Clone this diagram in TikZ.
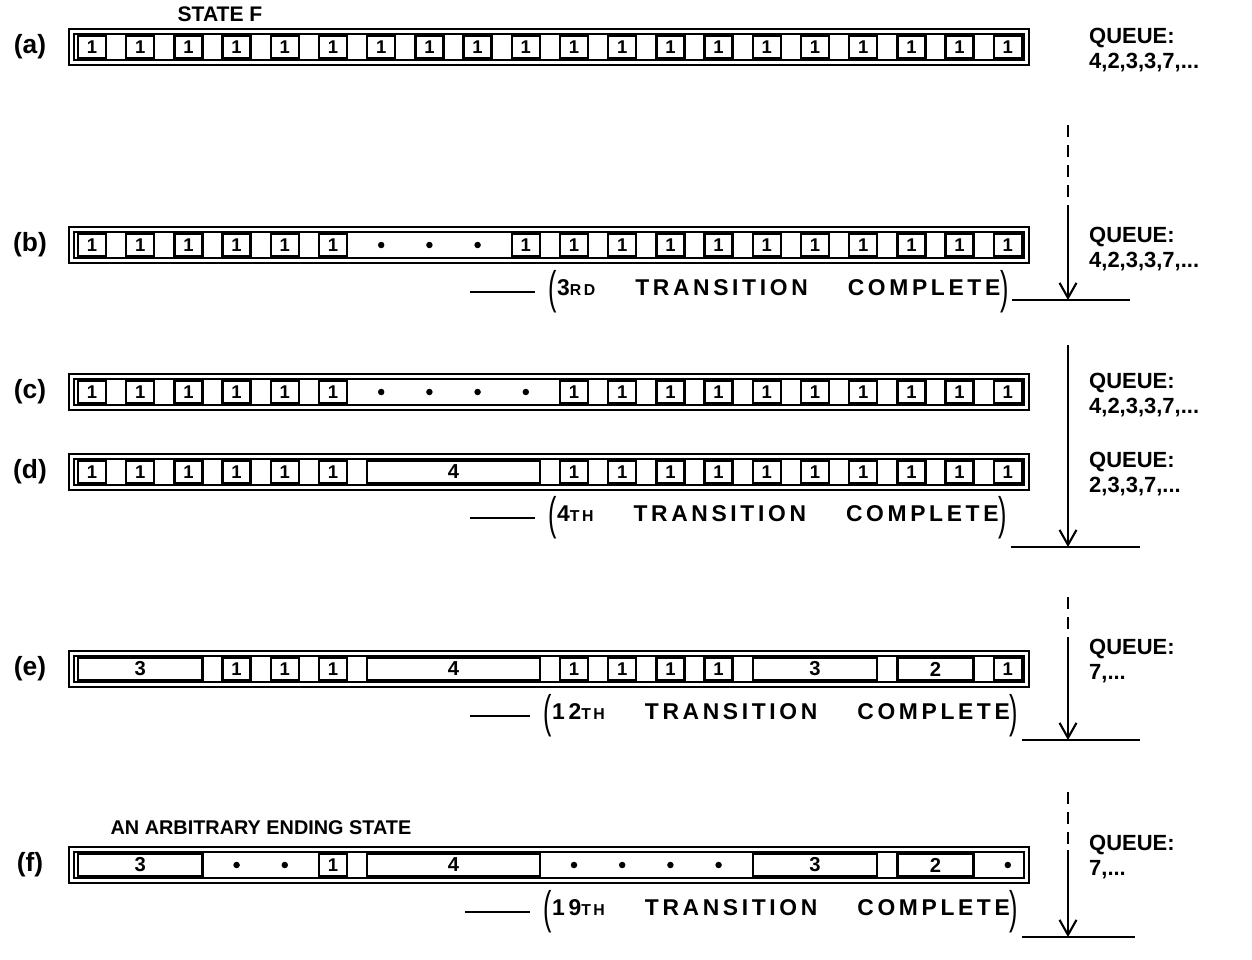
\documentclass[tikz,border=0pt]{standalone}
\usepackage{fontspec}
\usepackage{graphicx}
\setmainfont{Liberation Sans}
\newfontfamily\handwide[LetterSpace=16,WordSpace=4]{Liberation Sans}
\usetikzlibrary{arrows.meta, positioning}

\tikzstyle{rowbox}   = [draw, double, line width=1.3pt, double distance=1.3pt,
                        minimum width=19.1cm, minimum height=0.62cm, inner sep=0pt]
\tikzstyle{cell}     = [draw, line width=1.3pt, minimum width=0.56cm,
                        minimum height=0.46cm, inner sep=0pt, font=\bfseries\fontsize{10.5}{10.5}\selectfont]
\tikzstyle{blob}     = [circle, fill, inner sep=0pt, minimum size=0.13cm]
\tikzstyle{rowlabel} = [font=\bfseries\fontsize{15}{15}\selectfont]
\tikzstyle{queue}    = [anchor=west, align=left, font=\bfseries\fontsize{12.5}{14.2}\selectfont]
\tikzstyle{trans}    = [anchor=west, inner sep=2pt, font=\handwide\bfseries\fontsize{13}{13}\selectfont]
\tikzstyle{link}     = [line width=1.2pt]
\tikzstyle{pending}  = [line width=1.2pt, dash pattern=on 0.24cm off 0.16cm]
\tikzstyle{arrow}    = [-{Straight Barb[length=0.3cm,width=0.34cm]}, line width=1.2pt]
\tikzset{block/.style 2 args={cell, minimum width={(48.2*(#2-#1)+28)*0.02cm},
                              font=\bfseries\fontsize{11.5}{11.5}\selectfont}}

\newcommand{\slotx}[1]{(92+48.2*(#1-1))}
\newcommand{\bigparen}[1]{\raisebox{-0.35em}{\scalebox{1.1}[2]{\mdseries #1}}}
\newcommand{\suff}[1]{{\fontsize{9}{9}\selectfont #1}}

\begin{document}
\begin{tikzpicture}[x=0.02cm, y=-0.02cm, font=\bfseries\fontsize{12}{13.7}\selectfont]
  \useasboundingbox (0,0) rectangle (1252,960);

  %% the six rows
  \foreach \r/\y in {a/47, b/245, c/392, d/472, e/669, f/865} {
    \node[rowbox] (row\r) at (549,\y) {};
    \node[rowlabel] (lab\r) at (30,\y) {(\r)};
  }
  \node (statef) at (220,14) {STATE F};
  \node[font=\bfseries\fontsize{11.3}{12}\selectfont] (ending) at (261,828) {AN ARBITRARY ENDING STATE};

  %% (a)
  \foreach \i in {1,...,20}
    \node[cell] (a\i) at ({\slotx{\i}},47) {1};

  %% (b)
  \foreach \i in {1,...,6,10,11,...,20}
    \node[cell] (b\i) at ({\slotx{\i}},245) {1};
  \foreach \i in {7,8,9}
    \node[blob] (b\i) at ({\slotx{\i}},245) {};

  %% (c)
  \foreach \i in {1,...,6,11,12,...,20}
    \node[cell] (c\i) at ({\slotx{\i}},392) {1};
  \foreach \i in {7,...,10}
    \node[blob] (c\i) at ({\slotx{\i}},392) {};

  %% (d)
  \foreach \i in {1,...,6,11,12,...,20}
    \node[cell] (d\i) at ({\slotx{\i}},472) {1};
  \node[block={7}{10}] (d7) at ({(\slotx{7}+\slotx{10})/2},472) {4};

  %% (e)
  \foreach \i in {4,5,6,11,12,13,14,20}
    \node[cell] (e\i) at ({\slotx{\i}},669) {1};
  \foreach \p/\q/\v in {1/3/3, 7/10/4, 15/17/3, 18/19/2}
    \node[block={\p}{\q}] (e\p) at ({(\slotx{\p}+\slotx{\q})/2},669) {\v};

  %% (f)
  \node[cell] (f6) at ({\slotx{6}},865) {1};
  \foreach \i in {4,5,11,12,13,14,20}
    \node[blob] (f\i) at ({\slotx{\i}},865) {};
  \foreach \p/\q/\v in {1/3/3, 7/10/4, 15/17/3, 18/19/2}
    \node[block={\p}{\q}] (f\p) at ({(\slotx{\p}+\slotx{\q})/2},865) {\v};

  %% queues
  \node[queue] (qa) at (1083,50)  {QUEUE:\\4,2,3,3,7,...};
  \node[queue] (qb) at (1083,249) {QUEUE:\\4,2,3,3,7,...};
  \node[queue] (qc) at (1083,395) {QUEUE:\\4,2,3,3,7,...};
  \node[queue] (qd) at (1083,474) {QUEUE:\\2,3,3,7,...};
  \node[queue] (qe) at (1083,661) {QUEUE:\\7,...};
  \node[queue] (qf) at (1083,857) {QUEUE:\\7,...};

  %% transition marks
  \node[trans] (t3)  at (545,292) {\bigparen{(}3\suff{RD} TRANSITION COMPLETE\bigparen{)}};
  \node[trans] (t4)  at (545,518) {\bigparen{(}4\suff{TH} TRANSITION COMPLETE\bigparen{)}};
  \node[trans] (t12) at (540,716) {\bigparen{(}12\suff{TH} TRANSITION COMPLETE\bigparen{)}};
  \node[trans] (t19) at (540,912) {\bigparen{(}19\suff{TH} TRANSITION COMPLETE\bigparen{)}};

  \coordinate (d3)  at (470,292);
  \coordinate (d4)  at (470,518);
  \coordinate (d12) at (470,716);
  \coordinate (d19) at (465,912);
  \foreach \t in {3,4,12,19}
    \draw[link, shorten >=0.2cm] (d\t) -- (d\t -| t\t.west);

  \coordinate (h3)  at (1130,300);
  \coordinate (h4)  at (1140,547);
  \coordinate (h12) at (1140,740);
  \coordinate (h19) at (1135,937);
  \foreach \t in {3,4,12,19}
    \draw[link] (t\t.east |- h\t) -- (h\t);

  %% the time line on the right
  \coordinate (s3) at (1068,125);  \coordinate (v3)  at (1068,213);
  \coordinate (v4) at (1068,345);
  \coordinate (s12) at (1068,597); \coordinate (v12) at (1068,640);
  \coordinate (s19) at (1068,792); \coordinate (v19) at (1068,850);
  \draw[pending] (s3) -- (v3);
  \draw[pending] (s12) -- (v12);
  \draw[pending] (s19) -- (v19);
  \foreach \t in {3,4,12,19}
    \draw[arrow] (v\t) -- (v\t |- h\t);

\end{tikzpicture}
\end{document}
